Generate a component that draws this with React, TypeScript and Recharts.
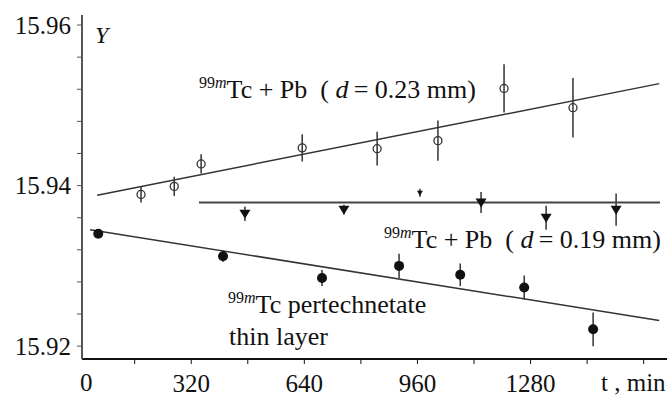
import React from "react";
import {
  ScatterChart,
  Scatter,
  XAxis,
  YAxis,
  ErrorBar,
} from "recharts";

// d = 0.23 mm, open circles
const openPts = [
  { t: 178, y: 15.9389, e: 0.001 },
  { t: 272, y: 15.9399, e: 0.0012 },
  { t: 348, y: 15.9427, e: 0.0012 },
  { t: 634, y: 15.9447, e: 0.0017 },
  { t: 846, y: 15.9446, e: 0.0021 },
  { t: 1018, y: 15.9456, e: 0.0025 },
  { t: 1205, y: 15.9521, e: 0.003 },
  { t: 1400, y: 15.9497, e: 0.0037 },
];
// d = 0.19 mm, down triangles
const triPts = [
  { t: 472, y: 15.9365, e: 0.0009 },
  { t: 752, y: 15.937, e: 0.0006 },
  { t: 1140, y: 15.9379, e: 0.0013 },
  { t: 1324, y: 15.936, e: 0.0015 },
  { t: 1522, y: 15.937, e: 0.002 },
];
const triSmall = [{ t: 967, y: 15.9391, e: 0.0005 }];
// pertechnetate thin layer, filled circles
const fillPts = [
  { t: 57, y: 15.934, e: 0.0005 },
  { t: 410, y: 15.9312, e: 0.0007 },
  { t: 690, y: 15.9285, e: 0.001 },
  { t: 908, y: 15.93, e: 0.0015 },
  { t: 1081, y: 15.9289, e: 0.0014 },
  { t: 1262, y: 15.9273, e: 0.0015 },
  { t: 1457, y: 15.9221, e: 0.0021 },
];
// fitted lines
const fitOpen = [
  { t: 54, y: 15.9388 },
  { t: 1644, y: 15.9527 },
];
const fitTri = [
  { t: 342, y: 15.9379 },
  { t: 1646, y: 15.9379 },
];
const fitFill = [
  { t: 34, y: 15.9345 },
  { t: 1644, y: 15.9232 },
];

const xTicks = [160, 320, 480, 640, 800, 960, 1120, 1280, 1440, 1600];
const xLabels = [320, 640, 960, 1280];
const yTicks = [15.92, 15.924, 15.928, 15.932, 15.936, 15.94, 15.944, 15.948, 15.952, 15.956, 15.96];

const serif = "'Liberation Serif', serif";
const ink = "#111";

const OpenCircle = (p: any) => (
  <circle cx={p.cx} cy={p.cy} r={4} fill="none" stroke="#333" strokeWidth={1.3} />
);
const FilledCircle = (p: any) => <circle cx={p.cx} cy={p.cy} r={5} fill={ink} />;
const Tri = (p: any) => (
  <path
    d={`M${p.cx - 5.5},${p.cy - 4} L${p.cx + 5.5},${p.cy - 4} L${p.cx},${p.cy + 5} Z`}
    fill={ink}
  />
);
const TriSmall = (p: any) => (
  <path
    d={`M${p.cx - 3},${p.cy - 2} L${p.cx + 3},${p.cy - 2} L${p.cx},${p.cy + 3} Z`}
    fill={ink}
  />
);
const NoShape = () => <g />;

const txt: React.CSSProperties = {
  position: "absolute",
  fontFamily: serif,
  fontSize: 26,
  lineHeight: "26px",
  color: ink,
  whiteSpace: "pre",
};
const sup: React.CSSProperties = { fontSize: 16, position: "relative", top: -10 };

const Iso = () => (
  <span style={sup}>
    99<i>m</i>
  </span>
);

export default function App() {
  return (
    <div style={{ position: "absolute", left: 0, top: 0, width: 668, height: 396, background: "#fff", fontFamily: serif }}>
      <ScatterChart width={668} height={396} margin={{ top: 15, right: 1, bottom: 0, left: 22 }} style={{ fontFamily: serif }}>
        <XAxis
          dataKey="t"
          type="number"
          domain={[11, 1666]}
          ticks={xTicks}
          tickFormatter={(v: number) => (xLabels.includes(v) ? String(v) : "")}
          height={37}
          tickSize={5}
          tickMargin={10}
          stroke="#111"
          axisLine={{ stroke: "#111", strokeWidth: 2 }}
          tick={{ fontFamily: serif, fontSize: 25, fill: ink }}
          allowDataOverflow
        />
        <XAxis
          xAxisId="top"
          orientation="top"
          type="number"
          domain={[11, 1666]}
          height={0}
          tick={false}
          tickLine={false}
          axisLine={{ stroke: "#777", strokeWidth: 1.5 }}
        />
        <YAxis
          dataKey="y"
          type="number"
          domain={[15.9184, 15.96125]}
          ticks={yTicks}
          tickFormatter={(v: number) =>
            Math.abs(v * 50 - Math.round(v * 50)) < 1e-6 ? v.toFixed(2) : ""
          }
          width={60}
          tickSize={5}
          tickMargin={6}
          stroke="#555"
          axisLine={{ stroke: "#555", strokeWidth: 2 }}
          tick={{ fontFamily: serif, fontSize: 25, fill: ink }}
          allowDataOverflow
        />
        <YAxis
          yAxisId="right"
          orientation="right"
          type="number"
          domain={[15.9184, 15.96125]}
          width={0}
          tick={false}
          tickLine={false}
          axisLine={{ stroke: "#777", strokeWidth: 1.5 }}
        />
        <Scatter data={fitOpen} line={{ stroke: "#333", strokeWidth: 1.5 }} shape={NoShape} isAnimationActive={false} />
        <Scatter data={fitTri} line={{ stroke: "#444", strokeWidth: 2 }} shape={NoShape} isAnimationActive={false} />
        <Scatter data={fitFill} line={{ stroke: "#333", strokeWidth: 1.5 }} shape={NoShape} isAnimationActive={false} />
        <Scatter data={openPts} shape={OpenCircle} isAnimationActive={false}>
          <ErrorBar dataKey="e" direction="y" width={0} stroke="#333" strokeWidth={1.5} />
        </Scatter>
        <Scatter data={triPts} shape={Tri} isAnimationActive={false}>
          <ErrorBar dataKey="e" direction="y" width={0} stroke="#333" strokeWidth={1.5} />
        </Scatter>
        <Scatter data={triSmall} shape={TriSmall} isAnimationActive={false}>
          <ErrorBar dataKey="e" direction="y" width={0} stroke="#333" strokeWidth={1.5} />
        </Scatter>
        <Scatter data={fillPts} shape={FilledCircle} isAnimationActive={false}>
          <ErrorBar dataKey="e" direction="y" width={0} stroke="#333" strokeWidth={1.5} />
        </Scatter>
      </ScatterChart>
      <div style={{ ...txt, left: 95, top: 22, fontSize: 24 }}>
        <i>Y</i>
      </div>
      <div style={{ ...txt, left: 199, top: 77 }}>
        <Iso />
        {"Tc + Pb  ( "}
        <i>d</i>
        {"\u2009= 0.23 mm)"}
      </div>
      <div style={{ ...txt, left: 384, top: 227 }}>
        <Iso />
        {"Tc + Pb  ( "}
        <i>d</i>
        {"\u2009= 0.19 mm)"}
      </div>
      <div style={{ ...txt, left: 228, top: 292 }}>
        <Iso />
        {"Tc pertechnetate"}
      </div>
      <div style={{ ...txt, left: 229, top: 324 }}>thin layer</div>
      <div style={{ ...txt, left: 80, top: 370, fontSize: 25 }}>0</div>
      <div style={{ ...txt, left: 601, top: 370, fontSize: 25 }}>t , min</div>
    </div>
  );
}
